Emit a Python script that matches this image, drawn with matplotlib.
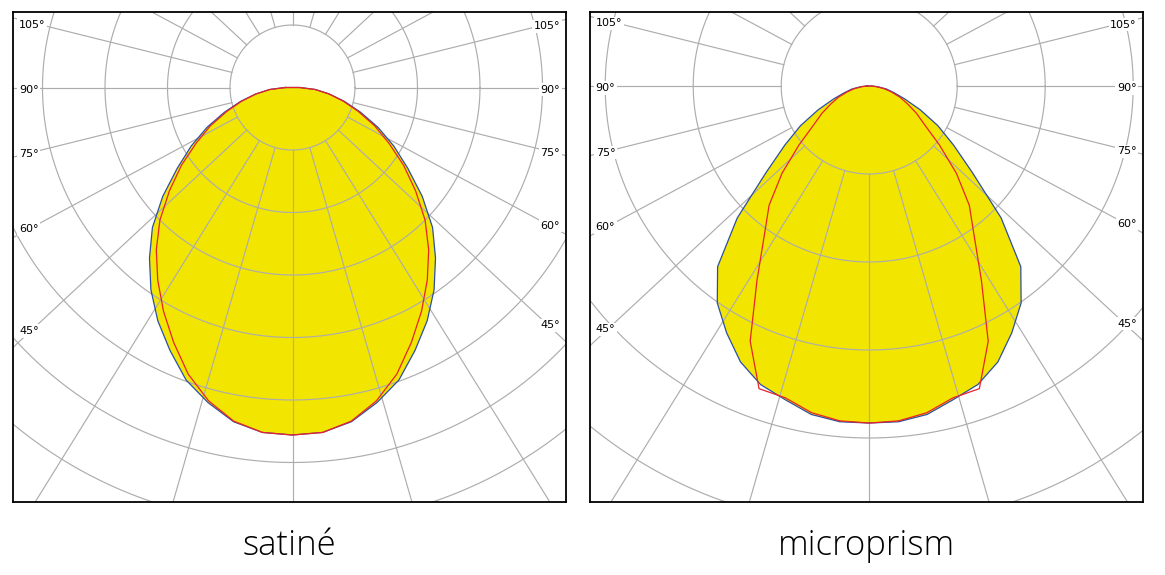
import numpy as np
import matplotlib.pyplot as plt

# gamma angle from nadir (deg); values are in grid-ring units, both half planes mirrored
gamma = [0, 5, 10, 15, 20, 25, 30, 35, 40, 45, 50, 55, 60, 65, 70, 75, 80, 85, 90]

satine_c0 = [5.56, 5.54, 5.43, 5.22, 4.98, 4.64, 4.31, 3.95, 3.56, 3.17,
             2.71, 2.25, 1.87, 1.51, 1.16, 0.86, 0.60, 0.37, 0.12]
satine_c90 = [5.56, 5.54, 5.42, 5.19, 4.88, 4.50, 4.13, 3.76, 3.39, 3.00,
              2.57, 2.17, 1.78, 1.45, 1.12, 0.84, 0.59, 0.36, 0.11]

prism_c0 = [3.83, 3.83, 3.79, 3.69, 3.61, 3.46, 3.24, 3.01, 2.68, 2.12,
            1.53, 1.17, 0.90, 0.64, 0.43, 0.29, 0.20, 0.10, 0.03]
prism_c90 = [3.83, 3.82, 3.77, 3.67, 3.66, 3.20, 2.55, 2.08, 1.77, 1.40,
             1.04, 0.77, 0.62, 0.48, 0.37, 0.26, 0.17, 0.08, 0.02]

label_angles = [105, 90, 75, 60, 45]
titles = ["satiné", "microprism"]

YELLOW = "#f2e500"
BLUE = "#2c4fa3"
RED = "#e8232b"
GRID = "#adadad"

W, H = 1165, 575
FRAME_W, FRAME_H = 553, 490
SQUASH = 0.93  # spokes are drawn slightly flattened in the original


def half_to_full(values):
    g = np.radians(gamma)
    r = np.array(values)
    g = np.concatenate([-g[::-1], g[1:]])
    r = np.concatenate([r[::-1], r[1:]])
    x = r * np.sin(g)
    y = -r * np.cos(g)
    # close the curve through the luminaire centre
    return np.concatenate([x, [0, x[0]]]), np.concatenate([y, [0, y[0]]])


def draw_panel(ax, c0, c90, title, scale, top, left_px):
    # scale = pixels per ring, top = px from frame top to centre, 279.5 px from left edge
    x0 = -279.5 / scale
    x1 = (FRAME_W - 279.5) / scale
    y1 = top / scale
    y0 = -(FRAME_H - top) / scale
    ax.set_xlim(x0, x1)
    ax.set_ylim(y0, y1)

    # rings
    t = np.linspace(0, 2 * np.pi, 721)
    for ring in range(1, 13):
        ax.plot(ring * np.cos(t), ring * np.sin(t), color=GRID, lw=0.85, zorder=2)

    # spokes from the first ring outwards
    for a in range(0, 360, 15):
        d = np.array([np.sin(np.radians(a)), -SQUASH * np.cos(np.radians(a))])
        d = d / np.hypot(*d)
        ax.plot([d[0], 20 * d[0]], [d[1], 20 * d[1]], color=GRID, lw=0.85, zorder=2)

    xb, yb = half_to_full(c0)
    xr, yr = half_to_full(c90)
    ax.fill(xb, yb, color=YELLOW, lw=0, zorder=1)
    ax.plot(xb, yb, color=BLUE, lw=0.9, zorder=3)
    ax.plot(xr, yr, color=RED, lw=0.9, zorder=4)

    # angle labels at both frame edges
    for a in label_angles:
        slope = -SQUASH * np.cos(np.radians(a)) / np.sin(np.radians(a))
        for side, xe, ha in ((-1, x0, "left"), (1, x1, "right")):
            xc = xe - side * 20 / scale
            ax.text(xe - side * 6 / scale, slope * abs(xc) - 2 / scale, f"{a}°",
                    ha=ha, va="center", fontsize=8, family="DejaVu Sans", zorder=5,
                    bbox=dict(boxstyle="square,pad=0.15", fc="white", ec="none"))

    ax.set_xticks([])
    ax.set_yticks([])
    for s in ax.spines.values():
        s.set_color("black")
        s.set_linewidth(1.3)
        s.set_zorder(6)

    fig.text((left_px + FRAME_W / 2) / W, 1 - 546 / H, title, ha="center", va="center",
             fontsize=25, family="Open Sans", fontweight="light")


fig = plt.figure(figsize=(W / 100, H / 100), dpi=100)
ax1 = fig.add_axes([13 / W, 73 / H, FRAME_W / W, FRAME_H / H])
ax2 = fig.add_axes([589.7 / W, 73 / H, FRAME_W / W, FRAME_H / H])

draw_panel(ax1, satine_c0, satine_c90, titles[0], 62.5, 75.5, 13)
draw_panel(ax2, prism_c0, prism_c90, titles[1], 88.0, 74.0, 589.7)

fig.savefig("out.png", dpi=100)
